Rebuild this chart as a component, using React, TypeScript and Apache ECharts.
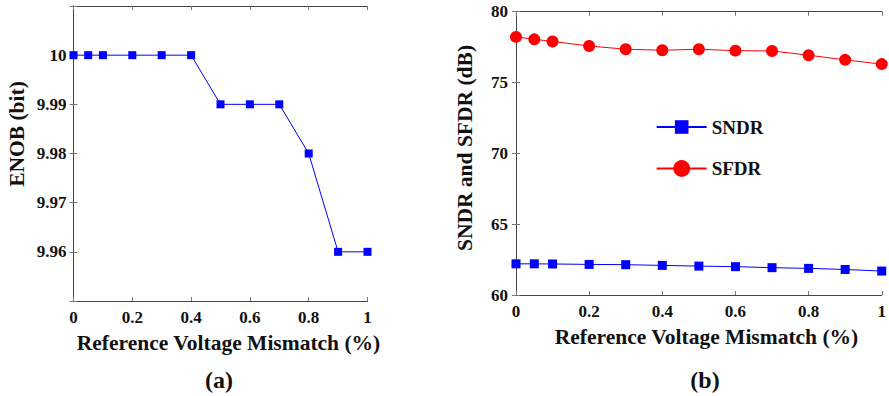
import React, { useEffect, useRef } from "react";
import * as echarts from "echarts";

// Reference voltage mismatch (%) sweep points, shared by both panels
const mismatch = [0, 0.05, 0.1, 0.2, 0.3, 0.4, 0.5, 0.6, 0.7, 0.8, 0.9, 1];

// Panel (a): effective number of bits
const enob = [10, 10, 10, 10, 10, 10, 9.99, 9.99, 9.99, 9.98, 9.96, 9.96];

// Panel (b): dynamic performance in dB
const sndr = [62.2, 62.2, 62.19, 62.16, 62.14, 62.09, 62.04, 62.0, 61.93, 61.88, 61.8, 61.69];
const sfdr = [78.22, 78.05, 77.9, 77.58, 77.35, 77.28, 77.35, 77.25, 77.23, 76.93, 76.6, 76.3];

const FONT = "'Liberation Serif', 'Times New Roman', serif";
const BLUE = "#0000ff";
const RED = "#ff0000";
const AXIS_COLOR = "#444";
const TICK_COLOR = "#777";
const TEXT = "#111";

const pair = (ys: number[]) => mismatch.map((x, i) => [x, ys[i]]);

const tickLabel = { fontFamily: FONT, fontWeight: "bold" as const, fontSize: 17, color: TEXT };

function title(text: string, x: number, y: number, vertical = false, size = 21.5) {
  return {
    type: "text" as const,
    x,
    y,
    rotation: vertical ? Math.PI / 2 : 0,
    style: {
      text,
      fontFamily: FONT,
      fontWeight: "bold" as const,
      fontSize: size,
      fill: TEXT,
      align: "center" as const,
      verticalAlign: "middle" as const,
    },
  };
}

function xAxisPair(gridIndex: number) {
  const common = {
    type: "value" as const,
    gridIndex,
    min: 0,
    max: 1,
    interval: 0.2,
    splitLine: { show: false },
    axisLine: { show: true, lineStyle: { color: AXIS_COLOR, width: 1 } },
    axisTick: { show: true, inside: true, length: 4, lineStyle: { color: TICK_COLOR } },
  };
  return [
    { ...common, position: "bottom" as const, axisLabel: { ...tickLabel, margin: 8 } },
    { ...common, position: "top" as const, axisLabel: { show: false } },
  ];
}

export default function App() {
  const ref = useRef<HTMLDivElement>(null);

  useEffect(() => {
    if (!ref.current) return;
    const chart = echarts.init(ref.current, undefined, { renderer: "svg" });

    const axisBase = {
      type: "value" as const,
      splitLine: { show: false },
      axisLine: { show: true, lineStyle: { color: AXIS_COLOR, width: 1 } },
      axisTick: { show: true, inside: true, length: 4, lineStyle: { color: TICK_COLOR } },
    };
    const enobAxis = { ...axisBase, min: 9.95, max: 10.01, interval: 0.01 };
    const dbAxis = { ...axisBase, min: 60, max: 80, interval: 5 };

    const legendText = { fontFamily: FONT, fontWeight: "bold" as const, fontSize: 19, color: TEXT };

    chart.setOption({
      animation: false,
      backgroundColor: "#ffffff",
      grid: [
        { left: 73.5, top: 6, right: 521.5, bottom: 95, containLabel: false },
        { left: 516, top: 11.7, right: 5, bottom: 101, containLabel: false },
      ],
      xAxis: [...xAxisPair(0), ...xAxisPair(1)],
      yAxis: [
        {
          ...enobAxis,
          gridIndex: 0,
          position: "left",
          axisLabel: {
            ...tickLabel,
            margin: 7,
            formatter: (v: number) =>
              v < 9.955 || v > 10.005 ? "" : String(Number(v.toFixed(2))),
          },
        },
        { ...enobAxis, gridIndex: 0, position: "right", axisLabel: { show: false } },
        { ...dbAxis, gridIndex: 1, position: "left", axisLabel: { ...tickLabel, margin: 8 } },
        { ...dbAxis, gridIndex: 1, position: "right", axisLabel: { show: false } },
      ],
      legend: [
        {
          data: ["SNDR"],
          left: 655.7,
          top: 117.5,
          padding: 0,
          itemWidth: 50,
          itemHeight: 17,
          itemGap: 0,
          textStyle: legendText,
        },
        {
          data: ["SFDR"],
          left: 655.7,
          top: 159,
          padding: 0,
          itemWidth: 50,
          itemHeight: 21,
          itemGap: 0,
          textStyle: legendText,
        },
      ],
      series: [
        {
          name: "ENOB",
          type: "line",
          xAxisIndex: 0,
          yAxisIndex: 0,
          data: pair(enob),
          symbol: "rect",
          symbolSize: 8,
          clip: false,
          lineStyle: { color: BLUE, width: 1 },
          itemStyle: { color: BLUE },
        },
        {
          name: "SNDR",
          type: "line",
          xAxisIndex: 2,
          yAxisIndex: 2,
          data: pair(sndr),
          symbol: "rect",
          symbolSize: 9,
          clip: false,
          lineStyle: { color: BLUE, width: 1 },
          itemStyle: { color: BLUE },
        },
        {
          name: "SFDR",
          type: "line",
          xAxisIndex: 2,
          yAxisIndex: 2,
          data: pair(sfdr),
          symbol: "circle",
          symbolSize: 12,
          clip: false,
          lineStyle: { color: RED, width: 1 },
          itemStyle: { color: RED },
        },
      ],
      graphic: [
        title("ENOB (bit)", 17, 134, true),
        title("SNDR and SFDR (dB)", 465, 148, true),
        title("Reference Voltage Mismatch (%)", 228.5, 343),
        title("Reference Voltage Mismatch (%)", 706.5, 337),
        title("(a)", 219, 380, false, 24),
        title("(b)", 705, 380, false, 24),
      ],
    });

    return () => chart.dispose();
  }, []);

  return (
    <div
      ref={ref}
      style={{ position: "fixed", left: 0, top: 0, width: 889, height: 396, background: "#fff" }}
    />
  );
}
